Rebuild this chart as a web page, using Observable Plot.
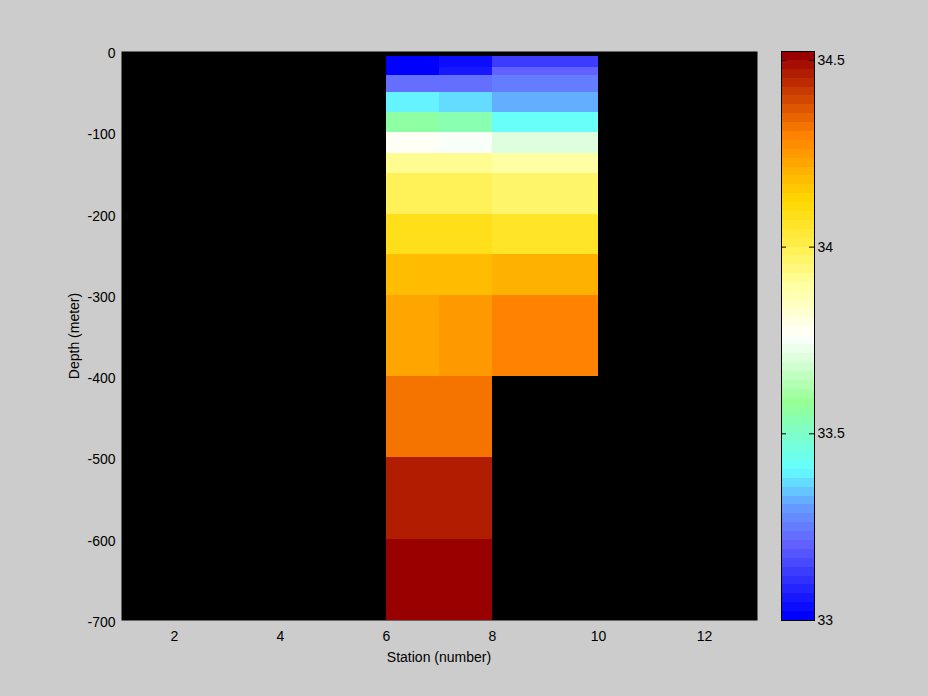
<!DOCTYPE html>
<html><head><meta charset="utf-8">
<script src="https://cdn.jsdelivr.net/npm/d3@7"></script>
<script src="https://cdn.jsdelivr.net/npm/@observablehq/plot@0.6"></script>
<style>
body{margin:0;background:#cccccc;}
#wrap{position:relative;width:928px;height:696px;background:#cccccc;font-family:"Liberation Sans",Arial,sans-serif;font-size:14px;color:#000;overflow:hidden;}
#wrap svg{position:absolute;left:0;top:0;}
.lab{position:absolute;white-space:nowrap;font-size:14px;line-height:1;}
</style></head><body><div id="wrap"></div>
<script>
// ---- data ----
const depthTop    = [-6,-20,-30,-50,-75,-100,-125,-150,-200,-250,-300,-400,-500,-600];
const depthBottom = [-20,-30,-50,-75,-100,-125,-150,-200,-250,-300,-400,-500,-600,-700];
const stationStart = [6, 7, 8];
const stationEnd   = [7, 8, 10];
const salinity6 = [33.00,33.02,33.22,33.40,33.56,33.77,33.91,34.00,34.08,34.17,34.22,34.325,34.46,34.52];
const salinity7 = [33.04,33.06,33.22,33.36,33.54,33.74,33.91,34.00,34.08,34.17,34.245,34.325,34.46,34.52];
const salinity8 = [33.14,33.20,33.25,33.32,33.41,33.71,33.90,33.97,34.05,34.20,34.30];
const colorStops = [33.00,33.20,33.30,33.40,33.58,33.76,33.90,34.00,34.13,34.31,34.524];
const colorStopColors = ["#0000ff","#6464ff","#64a0ff","#64ffff","#96ff96","#ffffff","#ffffa0","#fff050","#ffd700","#ff8000","#990000"];
const colorbarTicks = [33, 33.5, 34, 34.5];
const xTicks = [2, 4, 6, 8, 10, 12];
const yTicks = [0, -100, -200, -300, -400, -500, -600, -700];
const xLabel = "Station (number)";
const yLabel = "Depth (meter)";

// ---- build tables ----
const salinityCols = [salinity6, salinity7, salinity8];
const cells = [];
salinityCols.forEach((col, j) => {
  col.forEach((v, i) => {
    cells.push({x1: stationStart[j], x2: stationEnd[j], y1: depthBottom[i], y2: depthTop[i], s: v});
  });
});

const cMin = colorStops[0], cMax = colorStops[colorStops.length - 1];
const nLevels = 64;
const interp = d3.scaleLinear().domain(colorStops).range(colorStopColors).interpolate(d3.interpolateRgb);
const bandColors = d3.range(nLevels).map(i => d3.color(interp(cMin + i * (cMax - cMin) / (nLevels - 1))).formatHex());
const thresholds = d3.range(1, nLevels).map(i => cMin + i * (cMax - cMin) / nLevels);
const bands = d3.range(nLevels).map(i => ({
  lo: cMin + i * (cMax - cMin) / nLevels,
  hi: cMin + (i + 1) * (cMax - cMin) / nLevels,
  mid: cMin + (i + 0.5) * (cMax - cMin) / nLevels
}));
const colorScale = {type: "threshold", domain: thresholds, range: bandColors};
const plain = d => String(d);

const common = {
  width: 928, height: 696, marginTop: 51, marginBottom: 76,
  style: {background: "transparent", fontSize: "14px", fontFamily: "'Liberation Sans', Arial, sans-serif", color: "#000", overflow: "visible"}
};

const main = Plot.plot({
  ...common,
  marginLeft: 121, marginRight: 171,
  x: {domain: [1, 13]},
  y: {domain: [-700, 0]},
  color: colorScale,
  marks: [
    Plot.frame({fill: "black"}),
    Plot.rect(cells, {x1: "x1", x2: "x2", y1: "y1", y2: "y2", fill: "s", shapeRendering: "crispEdges"}),
    Plot.axisX(xTicks, {anchor: "bottom", tickSize: 0, tickPadding: 11, label: null, fill: "black", tickFormat: plain}),
    Plot.axisY(yTicks, {anchor: "left", tickSize: 0, tickPadding: 6, dy: 2, label: null, fill: "black", tickFormat: plain})
  ]
});

const bar = Plot.plot({
  ...common,
  marginLeft: 781, marginRight: 114,
  y: {domain: [cMin, cMax]},
  color: colorScale,
  marks: [
    Plot.rect(bands, {y1: "lo", y2: "hi", fill: "mid", shapeRendering: "crispEdges"}),
    Plot.ruleY(colorbarTicks, {stroke: "black", insetRight: 28}),
    Plot.ruleY(colorbarTicks, {stroke: "black", insetLeft: 28}),
    Plot.frame({stroke: "black"}),
    Plot.axisY(colorbarTicks, {anchor: "right", tickSize: 0, tickPadding: 3, label: null, fill: "black", tickFormat: plain})
  ]
});

const wrap = document.getElementById("wrap");
wrap.appendChild(main);
wrap.appendChild(bar);

const xl = document.createElement("div");
xl.className = "lab"; xl.textContent = xLabel;
xl.style.left = "439px"; xl.style.top = "657px"; xl.style.transform = "translate(-50%,-50%)";
wrap.appendChild(xl);
const yl = document.createElement("div");
yl.className = "lab"; yl.textContent = yLabel;
yl.style.left = "74px"; yl.style.top = "336px"; yl.style.transform = "translate(-50%,-50%) rotate(-90deg)";
wrap.appendChild(yl);
</script></body></html>
